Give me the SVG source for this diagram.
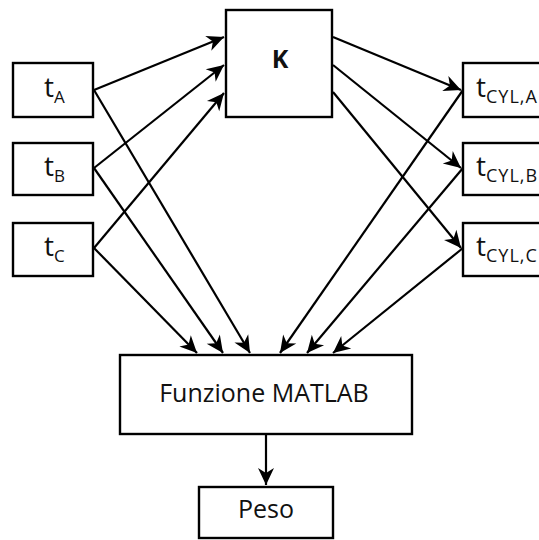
<svg xmlns="http://www.w3.org/2000/svg" width="539" height="540" viewBox="0 0 539 540">
  <style>
    .box { fill: #fff; stroke: #000; stroke-width: 2.4; }
    .lbl { font-family: "Open Sans", "DejaVu Sans", sans-serif; font-size: 25px; fill: #111; }
    .t { font-size: 28px; }
    .sub { font-size: 17px; }
    .subw { font-size: 18px; letter-spacing: 1px; }
    .edge { stroke: #000; stroke-width: 2.2; fill: none; marker-end: url(#arrow); }
  </style>
  <defs>
    <!-- barbed arrowhead shared by every connector -->
    <marker id="arrow" markerUnits="userSpaceOnUse" markerWidth="20" markerHeight="18" viewBox="-17 -9 19 18" refX="0" refY="0" orient="auto">
      <path d="M0,0 L-17,-8 L-12,0 L-17,8 z" fill="#000"/>
    </marker>
  </defs>

  <rect width="539" height="540" fill="#fff"/>

  <g id="connectors">
    <!-- inputs to K -->
    <line class="edge" x1="94" y1="90" x2="224" y2="37"/>
    <line class="edge" x1="94" y1="168" x2="224" y2="65"/>
    <line class="edge" x1="94" y1="248" x2="224" y2="93"/>
    <!-- K to cylinder times -->
    <line class="edge" x1="333" y1="37" x2="461" y2="90"/>
    <line class="edge" x1="333" y1="65" x2="461" y2="168"/>
    <line class="edge" x1="333" y1="92" x2="461" y2="248"/>
    <!-- inputs to MATLAB function -->
    <line class="edge" x1="94" y1="90" x2="250" y2="353"/>
    <line class="edge" x1="94" y1="168" x2="223" y2="353"/>
    <line class="edge" x1="94" y1="248" x2="197" y2="353"/>
    <!-- cylinder times to MATLAB function -->
    <line class="edge" x1="463" y1="90" x2="280" y2="353"/>
    <line class="edge" x1="463" y1="168" x2="307" y2="353"/>
    <line class="edge" x1="463" y1="248" x2="333" y2="353"/>
    <!-- MATLAB function to weight -->
    <line class="edge" x1="266" y1="435" x2="266" y2="485"/>
  </g>

  <g id="tA">
    <rect class="box" x="13" y="63" width="80" height="54"/>
    <text class="lbl t" x="44" y="97">t<tspan class="sub" dy="6">A</tspan></text>
  </g>
  <g id="tB">
    <rect class="box" x="13" y="143" width="80" height="52"/>
    <text class="lbl t" x="44" y="176">t<tspan class="sub" dy="6">B</tspan></text>
  </g>
  <g id="tC">
    <rect class="box" x="13" y="223" width="80" height="53"/>
    <text class="lbl t" x="44" y="256">t<tspan class="sub" dy="6">C</tspan></text>
  </g>

  <g id="K">
    <rect class="box" x="226" y="10" width="106" height="107"/>
    <text class="lbl" x="280" y="68" text-anchor="middle" font-weight="bold" font-size="28">K</text>
  </g>

  <g id="tCYLA">
    <rect class="box" x="463" y="63" width="100" height="54"/>
    <text class="lbl t" x="476" y="97">t<tspan class="subw" dy="6">CYL,A</tspan></text>
  </g>
  <g id="tCYLB">
    <rect class="box" x="463" y="143" width="100" height="52"/>
    <text class="lbl t" x="476" y="176">t<tspan class="subw" dy="6">CYL,B</tspan></text>
  </g>
  <g id="tCYLC">
    <rect class="box" x="463" y="223" width="100" height="53"/>
    <text class="lbl t" x="476" y="256">t<tspan class="subw" dy="6">CYL,C</tspan></text>
  </g>

  <g id="matlab">
    <rect class="box" x="120" y="355" width="292" height="79"/>
    <text class="lbl" x="264" y="402" text-anchor="middle">Funzione MATLAB</text>
  </g>

  <g id="peso">
    <rect class="box" x="199" y="487" width="134" height="51"/>
    <text class="lbl" x="266" y="518" text-anchor="middle" font-size="27">Peso</text>
  </g>
</svg>
